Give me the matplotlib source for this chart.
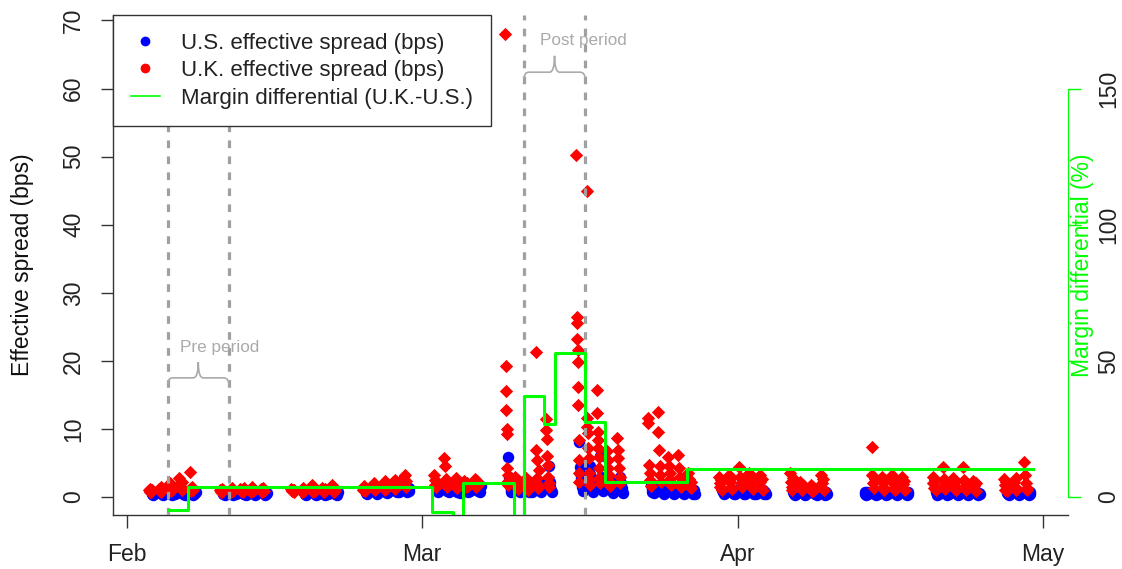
import matplotlib
matplotlib.use('Agg')
import matplotlib.pyplot as plt
import matplotlib.dates as mdates
import numpy as np
from matplotlib.path import Path
from matplotlib.patches import PathPatch
from matplotlib.lines import Line2D

plt.rcParams['font.family'] = ['Liberation Sans', 'DejaVu Sans']

# ---------------- data ----------------
us_days = ['2020-02-03', '2020-02-04', '2020-02-05', '2020-02-06', '2020-02-07',
           '2020-02-10', '2020-02-11', '2020-02-12', '2020-02-13', '2020-02-14',
           '2020-02-18', '2020-02-19', '2020-02-20', '2020-02-21',
           '2020-02-24', '2020-02-25', '2020-02-26', '2020-02-27', '2020-02-28',
           '2020-03-02', '2020-03-03', '2020-03-04', '2020-03-05', '2020-03-06',
           '2020-03-09', '2020-03-10', '2020-03-11', '2020-03-12', '2020-03-13',
           '2020-03-16', '2020-03-17', '2020-03-18', '2020-03-19', '2020-03-20',
           '2020-03-23', '2020-03-24', '2020-03-25', '2020-03-26', '2020-03-27',
           '2020-03-30', '2020-03-31', '2020-04-01', '2020-04-02', '2020-04-03',
           '2020-04-06', '2020-04-07', '2020-04-08', '2020-04-09',
           '2020-04-13', '2020-04-14', '2020-04-15', '2020-04-16', '2020-04-17',
           '2020-04-20', '2020-04-21', '2020-04-22', '2020-04-23', '2020-04-24',
           '2020-04-27', '2020-04-28', '2020-04-29']

us_spread = [
    [0.4, 0.6, 0.3, 0.5, 0.7], [0.5, 0.3, 0.6, 0.4, 0.8], [0.3, 0.5, 0.7, 0.4, 0.6],
    [0.6, 0.4, 0.5, 0.3, 0.7], [0.5, 0.3, 0.4, 0.6, 0.8],
    [0.4, 0.6, 0.3, 0.5, 0.7], [0.3, 0.5, 0.6, 0.4, 0.6], [0.5, 0.4, 0.7, 0.3, 0.5],
    [0.4, 0.6, 0.3, 0.5, 0.7], [0.6, 0.3, 0.5, 0.4, 0.6],
    [0.4, 0.5, 0.3, 0.6, 0.7], [0.5, 0.3, 0.6, 0.4, 0.5], [0.3, 0.6, 0.4, 0.7, 0.5],
    [0.5, 0.4, 0.6, 0.3, 0.8],
    [0.6, 0.8, 0.5, 0.9, 0.7], [0.7, 0.5, 0.9, 0.6, 1.0], [0.8, 0.6, 1.0, 0.7, 0.9],
    [0.9, 0.7, 1.1, 0.8, 1.2], [1.0, 0.8, 1.2, 0.9, 1.3],
    [1.0, 1.4, 0.8, 1.2, 1.6], [0.9, 1.3, 1.1, 0.7, 1.5], [0.8, 1.2, 1.0, 0.6, 1.4],
    [1.0, 0.8, 1.3, 0.9, 1.5], [1.1, 0.9, 1.4, 0.8, 1.6],
    [5.9, 2.9, 1.6, 1.0, 0.7], [1.4, 1.0, 0.7, 1.8, 0.9], [1.2, 0.8, 1.5, 1.0, 0.7],
    [1.6, 1.1, 2.0, 0.8, 1.3], [4.6, 2.2, 1.5, 1.0, 0.8],
    [8.1, 4.4, 3.6, 2.8, 2.0, 1.4, 0.9], [4.5, 3.4, 2.6, 1.8, 1.2, 0.8],
    [6.0, 3.0, 2.0, 1.4, 0.9], [2.6, 1.8, 1.2, 0.9, 0.6], [3.0, 2.0, 1.3, 0.9, 0.6],
    [1.8, 1.2, 0.8, 1.5, 0.6], [1.5, 1.0, 0.7, 1.3, 0.5], [1.4, 0.9, 0.6, 1.2, 0.5],
    [1.3, 0.8, 0.6, 1.1, 0.4], [1.2, 0.8, 0.5, 1.0, 0.4],
    [1.0, 0.7, 0.4, 0.9, 0.6], [0.9, 0.6, 0.4, 1.0, 0.5], [1.0, 0.7, 0.5, 0.8, 0.4],
    [0.9, 0.6, 0.4, 1.1, 0.5], [1.0, 0.7, 0.5, 0.8, 0.4],
    [0.8, 0.5, 0.3, 0.7, 0.4], [0.7, 0.5, 0.3, 0.9, 0.4], [0.8, 0.6, 0.4, 0.7, 0.3],
    [0.7, 0.4, 0.3, 0.8, 0.5],
    [0.8, 0.5, 0.3, 0.7, 0.4], [0.7, 0.4, 0.3, 0.6, 0.5], [0.8, 0.5, 0.3, 0.6, 0.4],
    [0.7, 0.5, 0.3, 0.8, 0.4], [0.6, 0.4, 0.3, 0.7, 0.5],
    [0.7, 0.5, 0.3, 0.8, 0.4], [0.8, 0.4, 0.3, 0.6, 0.5], [0.7, 0.5, 0.3, 0.6, 0.4],
    [0.6, 0.4, 0.3, 0.7, 0.5], [0.7, 0.5, 0.3, 0.6, 0.4],
    [0.6, 0.4, 0.3, 0.7, 0.5], [0.7, 0.5, 0.3, 0.6, 0.4], [0.6, 0.4, 0.3, 0.8, 0.5],
]

uk_days = ['2020-02-03', '2020-02-04', '2020-02-05', '2020-02-06', '2020-02-07',
           '2020-02-10', '2020-02-11', '2020-02-12', '2020-02-13', '2020-02-14',
           '2020-02-17', '2020-02-18', '2020-02-19', '2020-02-20', '2020-02-21',
           '2020-02-24', '2020-02-25', '2020-02-26', '2020-02-27', '2020-02-28',
           '2020-03-02', '2020-03-03', '2020-03-04', '2020-03-05', '2020-03-06',
           '2020-03-09', '2020-03-10', '2020-03-11', '2020-03-12', '2020-03-13',
           '2020-03-16', '2020-03-17', '2020-03-18', '2020-03-19', '2020-03-20',
           '2020-03-23', '2020-03-24', '2020-03-25', '2020-03-26', '2020-03-27',
           '2020-03-30', '2020-03-31', '2020-04-01', '2020-04-02', '2020-04-03',
           '2020-04-06', '2020-04-07', '2020-04-08', '2020-04-09',
           '2020-04-14', '2020-04-15', '2020-04-16', '2020-04-17',
           '2020-04-20', '2020-04-21', '2020-04-22', '2020-04-23', '2020-04-24',
           '2020-04-27', '2020-04-28', '2020-04-29']

uk_spread = [
    [1.0, 0.8, 1.2, 0.7, 1.0], [1.2, 0.9, 1.5, 0.8, 1.1], [1.3, 2.0, 0.9, 1.6, 1.1],
    [2.8, 1.9, 1.5, 1.0, 2.2], [3.7, 1.2, 0.9, 1.4, 1.0],
    [1.0, 0.7, 1.2, 0.8, 1.1], [1.1, 0.8, 1.3, 0.9, 1.0], [1.2, 0.9, 1.0, 0.7, 1.3],
    [1.0, 0.8, 1.4, 0.9, 1.1], [1.2, 0.8, 1.0, 1.3, 0.9],
    [1.2, 0.9, 1.0, 0.8, 1.1], [1.1, 0.8, 1.3, 0.9, 1.0], [1.8, 1.0, 0.8, 1.2, 0.9],
    [1.3, 0.9, 1.1, 0.8, 1.2], [1.7, 1.0, 0.8, 1.3, 1.1],
    [1.3, 1.0, 1.6, 0.9, 1.2], [1.6, 1.2, 2.0, 1.0, 1.4], [1.9, 1.3, 2.3, 1.1, 1.6],
    [2.2, 1.5, 2.5, 1.2, 1.9], [2.8, 1.8, 3.2, 1.4, 2.3],
    [3.3, 2.5, 1.8, 1.4, 2.2], [5.7, 4.6, 2.6, 1.8, 1.5], [2.3, 1.6, 2.8, 1.3, 2.0],
    [2.4, 1.8, 1.4, 2.1, 1.6], [2.6, 2.0, 1.5, 2.3, 1.8],
    [68.0, 19.3, 15.6, 12.8, 10.0, 9.3, 4.2, 3.2, 2.4, 1.8],
    [2.9, 2.2, 1.6, 1.2, 2.5], [2.8, 2.0, 1.5, 1.1, 2.4],
    [21.3, 6.9, 5.4, 2.8, 1.8, 1.3, 4.0],
    [11.5, 9.8, 8.5, 6.0, 4.7, 2.9, 2.0, 1.4],
    [50.2, 26.4, 25.5, 23.2, 21.6, 19.8, 16.2, 13.5, 8.4, 5.5, 3.5, 2.2],
    [44.9, 11.6, 10.3, 9.4, 7.2, 5.8, 3.5, 2.5, 1.8],
    [15.7, 12.3, 9.5, 8.4, 7.2, 5.9, 4.2, 2.8, 2.0],
    [6.8, 5.5, 4.3, 3.2, 2.3, 1.6],
    [8.7, 6.9, 5.8, 4.2, 3.0, 2.0],
    [11.6, 10.9, 4.7, 3.5, 2.5, 1.6], [12.5, 9.5, 6.9, 4.5, 3.2, 2.2],
    [5.9, 4.5, 3.5, 2.6, 1.8], [6.2, 4.2, 3.0, 2.0, 1.5], [3.5, 2.6, 1.8, 1.3, 2.2],
    [3.0, 2.0, 1.4, 2.5, 1.1], [3.3, 2.2, 1.5, 2.8, 1.2], [4.4, 3.0, 2.0, 1.4, 2.6],
    [3.5, 2.4, 1.6, 2.9, 1.2], [3.2, 2.2, 1.5, 2.6, 1.1],
    [3.5, 2.2, 1.4, 1.0, 2.8], [2.2, 1.5, 1.0, 1.8, 1.2], [1.8, 1.2, 0.9, 1.5, 1.0],
    [3.3, 2.0, 1.3, 2.6, 1.0],
    [7.3, 3.2, 2.0, 1.3, 2.6], [3.0, 2.2, 1.4, 1.0, 2.5], [3.2, 2.0, 1.3, 2.7, 1.0],
    [3.0, 1.9, 1.2, 2.4, 1.0],
    [3.0, 2.0, 1.3, 2.5, 1.0], [4.4, 2.6, 1.7, 1.2, 2.2], [2.8, 1.8, 1.2, 2.3, 1.0],
    [4.4, 2.5, 1.6, 1.1, 2.0], [2.4, 1.6, 1.1, 2.0, 0.9],
    [2.6, 1.7, 1.1, 2.2, 0.9], [2.2, 1.5, 1.0, 2.8, 1.2], [5.1, 3.2, 2.0, 1.3, 1.0],
]

margin_dates = ['2020-02-05', '2020-02-07', '2020-03-02', '2020-03-04', '2020-03-05',
                '2020-03-10', '2020-03-11', '2020-03-13', '2020-03-14', '2020-03-17',
                '2020-03-19', '2020-03-27', '2020-04-30']
margin_diff = [-4.8, 3.7, -5.5, -12.0, 5.1, -12.0, 37.1, 26.8, 52.9, 27.6, 5.5, 10.3, 10.3]

pre_period = ['2020-02-05', '2020-02-11']
post_period = ['2020-03-11', '2020-03-17']

month_ticks = ['2020-02-01', '2020-03-01', '2020-04-01', '2020-05-01']
month_labels = ['Feb', 'Mar', 'Apr', 'May']

# ---------------- helpers ----------------
def expand(days, values, t0, t1):
    xs, ys = [], []
    for d, vals in zip(days, values):
        base = mdates.datestr2num(d)
        n = len(vals)
        for i, v in enumerate(vals):
            xs.append(base + t0 + (t1 - t0) * i / max(n - 1, 1))
            ys.append(v)
    return np.array(xs), np.array(ys)


def brace(ax, x0, x1, y, down, up, r, color):
    xm = (x0 + x1) / 2.0
    verts = [(x0, y - down), (x0, y), (x0 + r, y),
             (xm - r, y), (xm, y), (xm, y + up),
             (xm, y), (xm + r, y),
             (x1 - r, y), (x1, y), (x1, y - down)]
    codes = [Path.MOVETO, Path.CURVE3, Path.CURVE3,
             Path.LINETO, Path.CURVE3, Path.CURVE3,
             Path.CURVE3, Path.CURVE3,
             Path.LINETO, Path.CURVE3, Path.CURVE3]
    ax.add_patch(PathPatch(Path(verts, codes), fill=False, edgecolor=color,
                           lw=1.2, zorder=4))

# ---------------- figure ----------------
W, H = 1122, 569
FS = 16.5
fig = plt.figure(figsize=(W / 100, H / 100), dpi=100)
ax = fig.add_axes([113 / W, 1 - 515 / H, (1068 - 113) / W, 500 / H])

feb1 = mdates.datestr2num('2020-02-01')
ax.set_xlim(feb1 - 1.375, feb1 + 92.44)
ax.set_ylim(-2.64, 70.8)

ux, uy = expand(us_days, us_spread, 0.45, 0.75)
kx, ky = expand(uk_days, uk_spread, 0.15, 0.45)
ax.scatter(ux, uy, s=68, color='#0000ff', marker='o', linewidths=0, zorder=2)
ax.scatter(kx, ky, s=46, color='#ff0000', marker='D', linewidths=0, zorder=3)

for d in pre_period + post_period:
    ax.axvline(mdates.datestr2num(d), color='#a0a0a0', lw=2.3,
               linestyle=(0, (2.4, 2.6)), zorder=4)

grey = '#aaaaaa'
p0, p1 = [mdates.datestr2num(d) for d in pre_period]
q0, q1 = [mdates.datestr2num(d) for d in post_period]
brace(ax, p0, p1, 17.5, 1.0, 2.3, 0.5, grey)
brace(ax, q0, q1, 62.4, 1.0, 2.4, 0.5, grey)
ax.text((p0 + p1) / 2 + 2.1, 22.0, 'Pre period', color=grey, fontsize=12.3,
        ha='center', va='center', zorder=4)
ax.text((q0 + q1) / 2 + 2.8, 67.1, 'Post period', color=grey, fontsize=12.3,
        ha='center', va='center', zorder=4)

for s in ['top', 'right']:
    ax.spines[s].set_visible(False)
for s in ['left', 'bottom']:
    ax.spines[s].set_color('#333333')
    ax.spines[s].set_linewidth(1.0)

ax.set_xticks([mdates.datestr2num(d) for d in month_ticks])
ax.set_xticklabels(month_labels)
ax.set_yticks(np.arange(0, 71, 10))
ax.tick_params(axis='both', direction='out', length=9, width=1.0, color='#333333',
               labelsize=FS, labelcolor='#222222')
ax.tick_params(axis='x', pad=11)
ax.tick_params(axis='y', pad=11)
for lab in ax.get_yticklabels():
    lab.set_rotation(90)
    lab.set_va('center')
ax.set_ylabel('Effective spread (bps)', fontsize=FS, color='#111111', labelpad=20)

# right axis
ax2 = ax.twinx()
ax2.set_ylim(-6.6, 177.0)
ax2.set_xlim(ax.get_xlim())
mx = [mdates.datestr2num(d) for d in margin_dates]
ax2.step(mx, margin_diff, where='post', color='#00ff00', lw=2.2, zorder=5)
for s in ['top', 'left', 'bottom']:
    ax2.spines[s].set_visible(False)
ax2.spines['right'].set_color('#00ff00')
ax2.spines['right'].set_bounds(0, 150)
ax2.set_yticks([0, 50, 100, 150])
ax2.tick_params(axis='y', direction='out', length=9, width=1.0, color='#00ff00',
                labelsize=FS, labelcolor='#222222', pad=12)
for lab in ax2.get_yticklabels():
    lab.set_rotation(90)
    lab.set_va('center')
ax2.text(1.0155, 0.5, 'Margin differential (%)', transform=ax2.transAxes,
         rotation=90, ha='center', va='center', fontsize=FS, color='#00ff00')

handles = [Line2D([], [], marker='o', color='#0000ff', ls='none', markersize=6),
           Line2D([], [], marker='o', color='#ff0000', ls='none', markersize=6),
           Line2D([], [], color='#00ff00', lw=1.2)]
labels = ['U.S. effective spread (bps)', 'U.K. effective spread (bps)',
          'Margin differential (U.K.-U.S.)']
leg = ax2.legend(handles, labels, loc='upper left', bbox_to_anchor=(0, 1),
                 borderaxespad=0, fancybox=False, framealpha=1, edgecolor='#333333',
                 fontsize=16, handlelength=1.3, handletextpad=0.95,
                 labelspacing=0.29, borderpad=0.8)
leg.get_frame().set_linewidth(1.0)
for t in leg.get_texts():
    t.set_color('#222222')
leg.set_zorder(10)

fig.savefig('out.png', dpi=100)
